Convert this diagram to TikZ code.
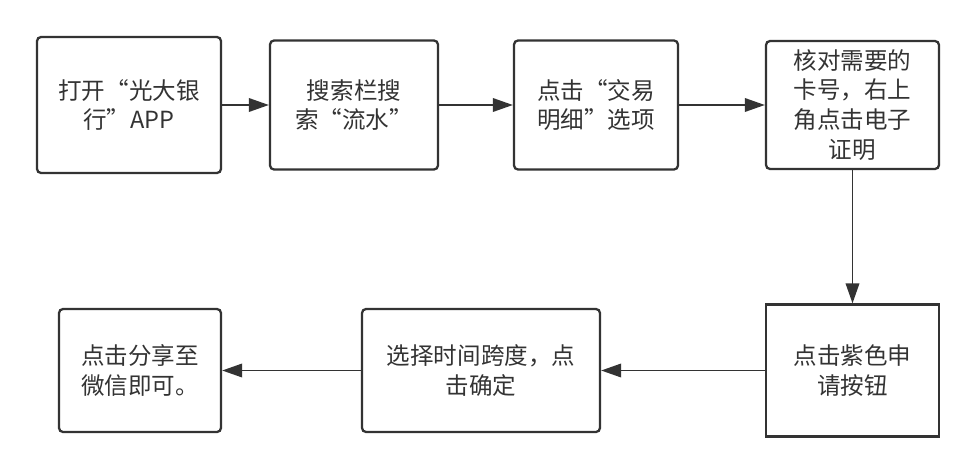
\documentclass[tikz,border=0pt]{standalone}
\usepackage{fontspec}
\setmainfont{Noto Sans CJK SC}
\usepackage{xcolor}
\usetikzlibrary{arrows.meta}
\definecolor{ink}{HTML}{333333}

\begin{document}
\begin{tikzpicture}[x=0.02cm,y=-0.02cm,
    step box/.style={draw=ink,line width=1.3pt,rounded corners=0.08cm,align=center,
      text=ink,inner sep=0pt,font=\fontsize{13.4}{17}\selectfont},
    flat box/.style={step box,sharp corners},
    flow/.style={draw=ink,line width=1.1pt,-{Triangle[length=0.4cm,width=0.27cm]}} ]
    \useasboundingbox (0,0) rectangle (976,473);
    \node [step box,minimum width=3.68cm,minimum height=2.72cm] at (129,105) (n1) {打开“光大银\\行”APP};
    \node [step box,minimum width=3.36cm,minimum height=2.58cm] at (354,105) (n2) {搜索栏搜\\索“流水”};
    \node [step box,minimum width=3.28cm,minimum height=2.58cm] at (596,105) (n3) {点击“交易\\明细”选项};
    \node [step box,minimum width=3.46cm,minimum height=2.56cm] at (852.5,105) (n4) {核对需要的\\卡号，右上\\角点击电子\\证明};
    \node [flat box,minimum width=3.46cm,minimum height=2.64cm] at (852.5,370.5) (n5) {点击紫色申\\请按钮};
    \node [step box,minimum width=4.76cm,minimum height=2.46cm] at (481,370.5) (n6) {选择时间跨度，点\\击确定};
    \node [step box,minimum width=3.24cm,minimum height=2.46cm] at (140,370.5) (n7) {点击分享至\\微信即可。};
    \draw [flow] (n1) to (n2);
    \draw [flow] (n2) to (n3);
    \draw [flow] (n3) to (n4);
    \draw [flow] (n4) to (n5);
    \draw [flow] (n5) to (n6);
    \draw [flow] (n6) to (n7);
\end{tikzpicture}
\end{document}
